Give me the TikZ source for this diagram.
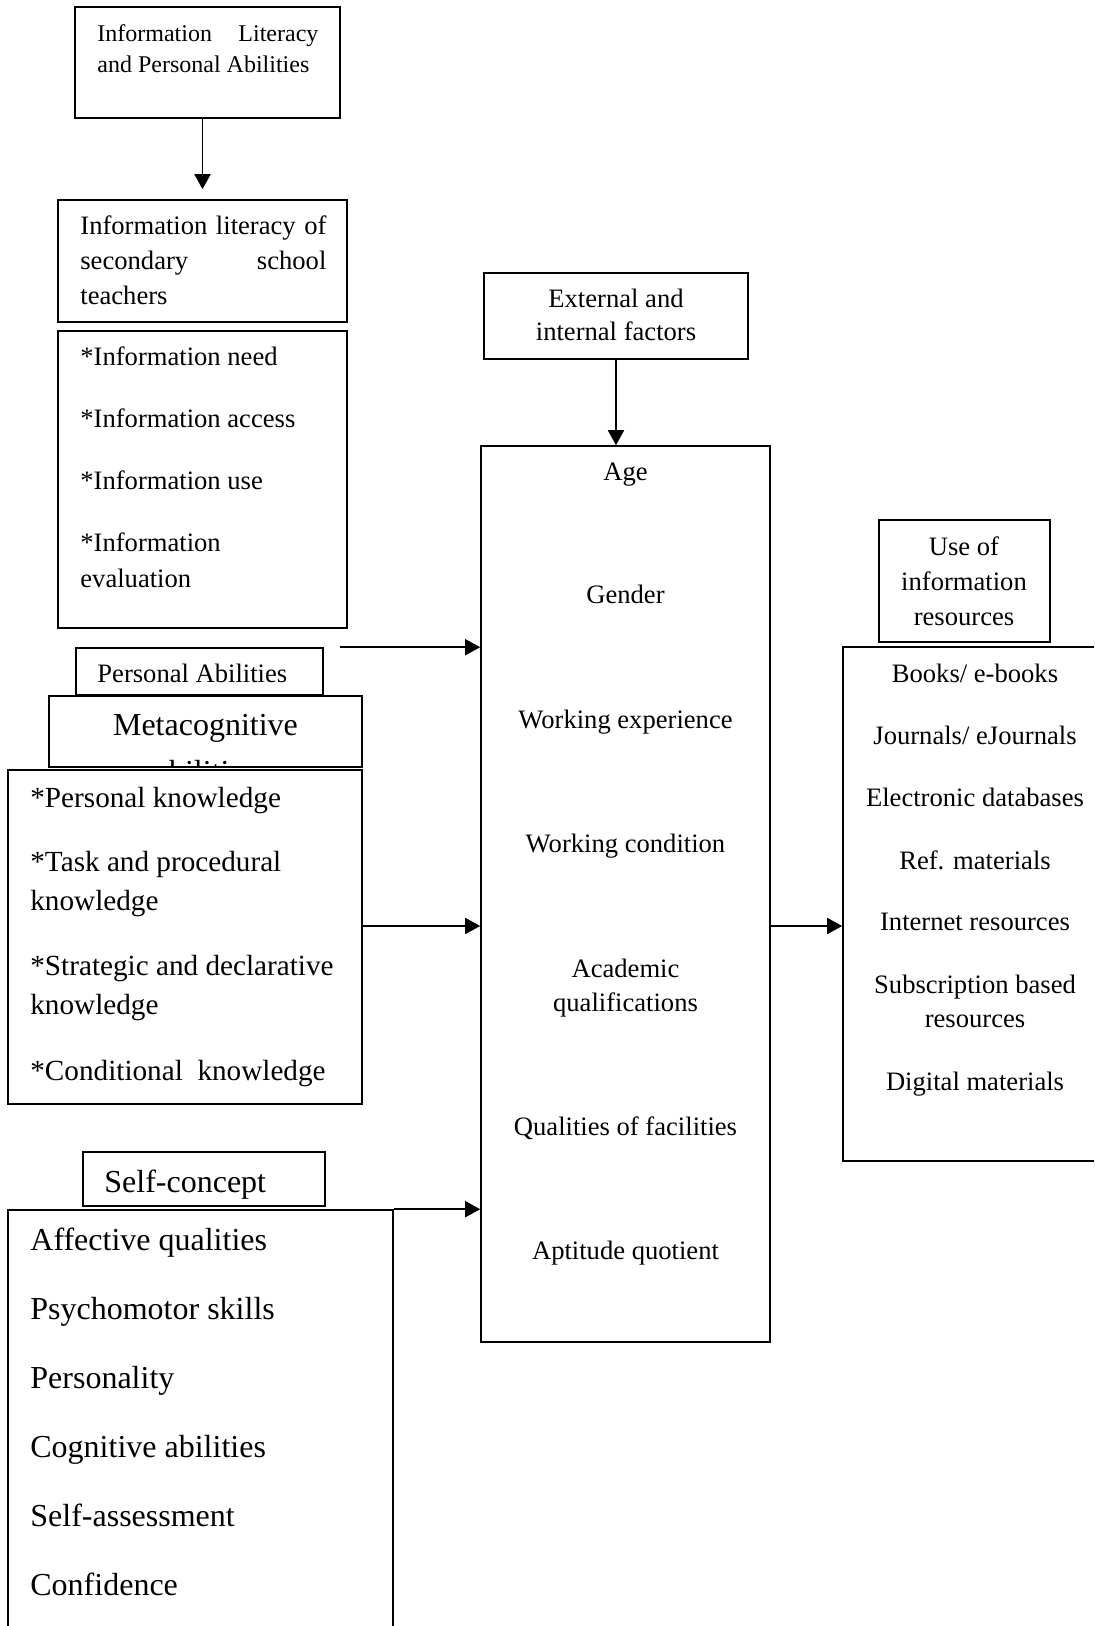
\documentclass[tikz,border=0pt]{standalone}
\usepackage{fontspec}
\setmainfont{Liberation Serif}
\usetikzlibrary{arrows.meta, fit}

\newcommand{\fsA}{\fontsize{12}{15}\selectfont}
\newcommand{\fsB}{\fontsize{13.3}{17}\selectfont}
\newcommand{\fsC}{\fontsize{14.6}{19}\selectfont}
\newcommand{\fsD}{\fontsize{16}{20}\selectfont}

\tikzset{
	box/.style = {draw, line width = 0.8pt, inner sep = 0pt},
	conn/.style = {-{Triangle[length = 7.5pt, width = 8pt]}, line width = 0.9pt},
	lbl/.style = {inner sep = 0pt, anchor = base west, font = \fsB},
	clbl/.style = {inner sep = 0pt, anchor = base, font = \fsB}
}

\begin{document}
\begin{tikzpicture}[x = 0.5pt, y = -0.5pt]
					\def\facX{625.5};
					\def\resX{975};
					\def\uirX{964};
					\useasboundingbox (0,0) rectangle (1094,1626);
					\clip (0,0) rectangle (1094,1626);

					\begin{scope}
						\node [box, fit = {(75,7) (340,118)}] (lit) {};
						\node [lbl, font = \fsA] (lit1) at (97,42) {\makebox[110.5pt][s]{Information Literacy}};
						\node [lbl, font = \fsA] (lit2) at (97,73) {and Personal Abilities};

						\node [box, fit = {(58,200) (347,322)}] (ilt) {};
						\node [lbl] (ilt1) at (80,235) {\makebox[123pt][s]{Information literacy of}};
						\node [lbl] (ilt2) at (80,270) {\makebox[123pt][s]{secondary school}};
						\node [lbl] (ilt3) at (80,305) {teachers};

						\node [box, fit = {(58,331) (347,628)}] (ilst) {};
						\node [lbl] (need) at (80,365) {*Information need};
						\node [lbl] (access) at (80,427) {*Information access};
						\node [lbl] (use) at (80,489) {*Information use};
						\node [lbl] (eval1) at (80,551) {*Information};
						\node [lbl] (eval2) at (80,587) {evaluation};
					\end{scope}

					\begin{scope}
						\node [box, fit = {(76,648) (323,695)}] (pab) {};
						\node [lbl] (pab1) at (97,682) {Personal Abilities};
						\node [box, fit = {(49,696) (362,767)}] (meta) {};
						\node [box, fit = {(8,770) (362,1104)}] (mlst) {};
						\node [lbl, font = \fsC] (pkn) at (30,807) {*Personal knowledge};
						\node [lbl, font = \fsC] (tkn1) at (30,871) {*Task and procedural};
						\node [lbl, font = \fsC] (tkn2) at (30,910) {knowledge};
						\node [lbl, font = \fsC] (skn1) at (30,975) {*Strategic and declarative};
						\node [lbl, font = \fsC] (skn2) at (30,1014) {knowledge};
						\node [lbl, font = \fsC] (ckn) at (30,1080) {*Conditional\ \ knowledge};
					\end{scope}

					\begin{scope}
						\clip (meta.south west) rectangle (meta.north east);
						\node [clbl, font = \fsD] (meta1) at (205.5,735) {Metacognitive};
						\node [clbl, font = \fsD] (meta2) at (205.5,782) {abilities};
					\end{scope}

					\begin{scope}
						\node [box, fit = {(83,1152) (325,1206)}] (self) {};
						\node [lbl, font = \fsD] (self1) at (104,1192) {Self-concept};
						\node [box, fit = {(8,1210) (393,1650)}] (slst) {};
						\node [lbl, font = \fsD] (aff) at (30,1250) {Affective qualities};
						\node [lbl, font = \fsD] (psy) at (30,1319) {Psychomotor skills};
						\node [lbl, font = \fsD] (per) at (30,1388) {Personality};
						\node [lbl, font = \fsD] (cog) at (30,1457) {Cognitive abilities};
						\node [lbl, font = \fsD] (sas) at (30,1526) {Self-assessment};
						\node [lbl, font = \fsD] (con) at (30,1595) {Confidence};
					\end{scope}

					\begin{scope}
						\node [box, fit = {(484,273) (748,359)}] (ext) {};
						\node [clbl] (ext1) at (616,308) {External and};
						\node [clbl] (ext2) at (616,341) {internal factors};

						\node [box, fit = {(481,446) (770,1342)}] (fac) {};
						\node [clbl] (age) at (\facX,480) {Age};
						\node [clbl] (gen) at (\facX,603) {Gender};
						\node [clbl] (wex) at (\facX,728) {Working experience};
						\node [clbl] (wco) at (\facX,852) {Working condition};
						\node [clbl] (aca1) at (\facX,977) {Academic};
						\node [clbl] (aca2) at (\facX,1011) {qualifications};
						\node [clbl] (qua) at (\facX,1135) {Qualities of facilities};
						\node [clbl] (apt) at (\facX,1259) {Aptitude quotient};
					\end{scope}

					\begin{scope}
						\node [box, fit = {(879,520) (1050,642)}] (uir) {};
						\node [clbl] (uir1) at (\uirX,555) {Use of};
						\node [clbl] (uir2) at (\uirX,590) {information};
						\node [clbl] (uir3) at (\uirX,625) {resources};

						\node [box, fit = {(843,647) (1110,1161)}] (res) {};
						\node [clbl] (bks) at (\resX,682) {Books/ e-books};
						\node [clbl] (jnl) at (\resX,744) {Journals/ eJournals};
						\node [clbl] (edb) at (\resX,806) {Electronic databases};
						\node [clbl] (ref) at (\resX,869) {Ref. materials};
						\node [clbl] (int) at (\resX,930) {Internet resources};
						\node [clbl] (sub1) at (\resX,993) {Subscription based};
						\node [clbl] (sub2) at (\resX,1027) {resources};
						\node [clbl] (dig) at (\resX,1090) {Digital materials};
					\end{scope}

					% connectors
					\coordinate (mid) at (0,926);
					\coordinate (pabout) at ([xshift = 8pt]pab.north east);
					\draw [conn, shorten > = 5pt] (ilt.north |- lit.south) -- (ilt.north);
					\draw [conn] (ext.south) -- (ext.south |- fac.north);
					\draw [conn] (pabout) -- (pabout -| fac.west);
					\draw [conn] (mlst.east |- mid) -- (fac.west |- mid);
					\draw [conn] (slst.north east) -- (slst.north east -| fac.west);
					\draw [conn] (fac.east |- mid) -- (res.west |- mid);
				\end{tikzpicture}
\end{document}
